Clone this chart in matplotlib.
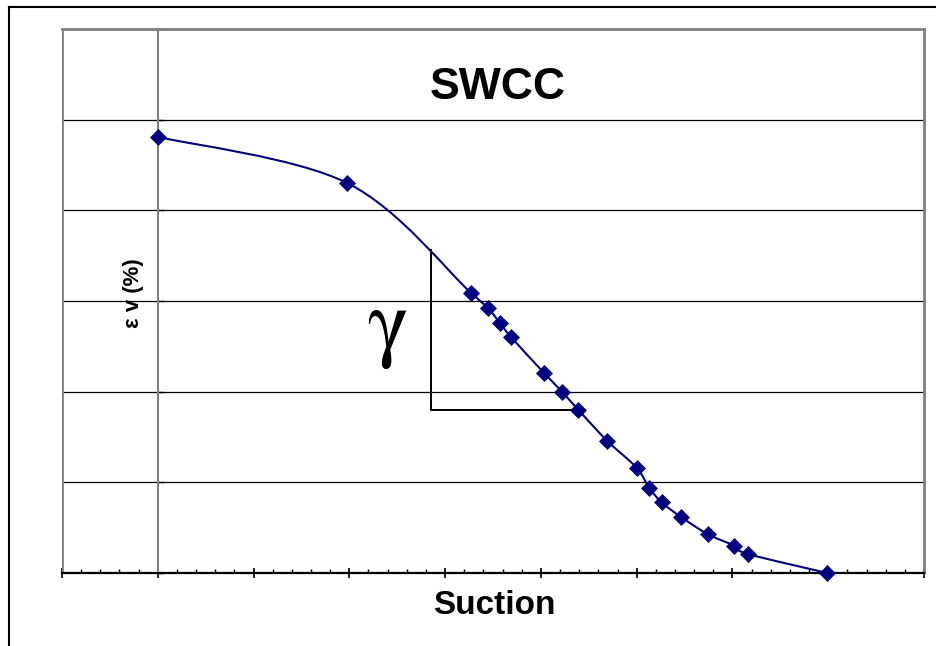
"""
SWCC sketch - volumetric strain vs suction, Excel-style smoothed curve
with the slope triangle (gamma) marked on the steep part.
"""

import matplotlib.pyplot as plt
from matplotlib.path import Path
from matplotlib.patches import PathPatch
from matplotlib.lines import Line2D
from matplotlib.ticker import MultipleLocator, NullFormatter

# ── data ─────────────────────────────────────────────────────────────────
suction = [0.00, 1.98, 3.27, 3.45, 3.57, 3.69, 4.03, 4.22, 4.39,
           4.69, 5.00, 5.13, 5.26, 5.46, 5.74, 6.02, 6.16, 6.99]
strain = [4.81, 4.30, 3.09, 2.92, 2.76, 2.60, 2.21, 2.00, 1.80,
          1.46, 1.16, 0.94, 0.78, 0.62, 0.43, 0.30, 0.21, 0.00]

# slope triangle corners (apex on curve, right corner on a data point)
tri_x = [2.853, 2.853, 4.39]
tri_y = [3.56, 1.80, 1.80]

x_min, x_max = -1, 8
y_min, y_max = 0, 6

NAVY = '#000080'
GREY = '#808080'

fig = plt.figure(figsize=(9.37, 6.46), dpi=100)
fig.patch.set_facecolor('white')
ax = fig.add_axes([62 / 937, 1 - 573 / 646, 862 / 937, 544 / 646])
ax.set_xlim(x_min, x_max)
ax.set_ylim(y_min, y_max)

# ── frame / axes ─────────────────────────────────────────────────────────
for side in ('top', 'right'):
    ax.spines[side].set_color(GREY)
    ax.spines[side].set_linewidth(2.0)
ax.spines['bottom'].set_color('black')
ax.spines['bottom'].set_linewidth(1.6)
ax.spines['left'].set_position(('data', 0))
ax.spines['left'].set_color(GREY)
ax.spines['left'].set_linewidth(1.5)
# plot-area border on the far left (value axis sits at x = 0)
ax.axvline(x_min, color=GREY, lw=2.0, zorder=1)

ax.yaxis.set_major_locator(MultipleLocator(1))
ax.xaxis.set_major_locator(MultipleLocator(1))
ax.xaxis.set_minor_locator(MultipleLocator(0.2))
ax.xaxis.set_major_formatter(NullFormatter())
ax.yaxis.set_major_formatter(NullFormatter())
ax.tick_params(axis='x', which='major', direction='inout', length=7,
               width=1.2, color='black')
ax.tick_params(axis='x', which='minor', direction='in', length=3,
               width=1.0, color='black')
ax.tick_params(axis='y', which='major', direction='in', length=4,
               width=1.0, color='black')

ax.grid(axis='y', color='black', lw=0.9, zorder=0)
ax.set_axisbelow(True)

# ── smoothed curve (bezier through the points) ───────────────────────────
pts = list(zip(suction, strain))
verts = [pts[0]]
codes = [Path.MOVETO]
n = len(pts)
for i in range(n - 1):
    p0 = pts[i - 1] if i > 0 else pts[i]
    p1 = pts[i]
    p2 = pts[i + 1]
    p3 = pts[i + 2] if i + 2 < n else pts[i + 1]
    c1 = (p1[0] + (p2[0] - p0[0]) / 6, p1[1] + (p2[1] - p0[1]) / 6)
    c2 = (p2[0] - (p3[0] - p1[0]) / 6, p2[1] - (p3[1] - p1[1]) / 6)
    verts += [c1, c2, p2]
    codes += [Path.CURVE4] * 3
ax.add_patch(PathPatch(Path(verts, codes), facecolor='none',
                       edgecolor=NAVY, lw=1.5, zorder=3, clip_on=False))

ax.plot(suction, strain, linestyle='none', marker='D', markersize=8,
        color=NAVY, markeredgewidth=0.5, zorder=4, clip_on=False)

# ── slope triangle ───────────────────────────────────────────────────────
ax.plot(tri_x, tri_y, color='black', lw=1.4, zorder=2)
ax.text(2.40, 2.68, 'γ', fontsize=62, family='STIXGeneral',
        ha='center', va='center', color='black')

# ── labels ───────────────────────────────────────────────────────────────
ax.text(0.505, 0.893, 'SWCC', transform=ax.transAxes, fontsize=32,
        fontweight='bold', family='Liberation Sans', ha='center', va='center')
fig.text(494 / 937, 1 - 605 / 646, 'Suction', fontsize=24,
         fontweight='bold', family='Liberation Sans', ha='center', va='center')
fig.text(134 / 937, 1 - 293 / 646, 'ε v (%)', fontsize=16, rotation=90,
         fontweight='bold', family='Liberation Sans', ha='center', va='center')

# outer chart border (left and top edges only)
fig.add_artist(Line2D([9 / 937, 9 / 937], [0, 1 - 6.5 / 646],
                      transform=fig.transFigure, color='black', lw=1.5))
fig.add_artist(Line2D([9 / 937, 1], [1 - 6.5 / 646, 1 - 6.5 / 646],
                      transform=fig.transFigure, color='black', lw=1.5))

fig.savefig('out.png', dpi=100, facecolor='white')
plt.close()
